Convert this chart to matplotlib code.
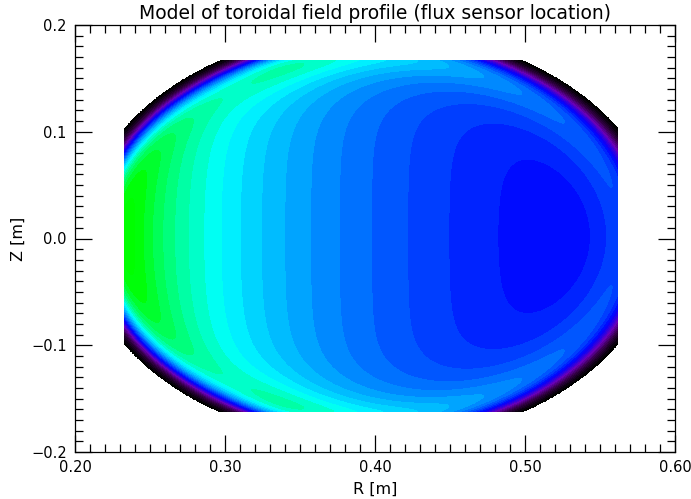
import numpy as np
import matplotlib.pyplot as plt
from matplotlib.colors import LinearSegmentedColormap
from matplotlib.ticker import MultipleLocator, FuncFormatter

# геометрія камери (м)
wall_r0, wall_z0, wall_a = 0.3975, 0.002, 0.193
r_lim = [0.233, 0.562]
z_lim = [-0.162, 0.167]

# параметри моделі поля
edge_len = 0.016
edge_pow = 2.0
bump_amp = 1.8
bump_len = 0.018
bump_r0, bump_dr, bump_in = 0.32, 0.03, 0.22

# рівні контурів
lev_start, lev_step, lev_stop = 0.075, 0.1435, 6.0

# кольорова таблиця (значення, колір)
cmap_vals = [0.0, 0.7, 1.3, 1.95, 3.4, 4.35]
cmap_cols = ['#000000', '#3a0050', '#6a00b8', '#0000ff', '#00ffff', '#00ff00']

R = np.linspace(r_lim[0], r_lim[1], 700)
Z = np.linspace(z_lim[0], z_lim[1], 700)
RR, ZZ = np.meshgrid(R, Z)
d = wall_a - np.hypot(RR - wall_r0, ZZ - wall_z0)
dc = np.clip(d, 0, None)
wall = 1 - np.exp(-(dc / edge_len) ** edge_pow)
g = bump_in + (1 - bump_in) * 0.5 * (1 + np.tanh((RR - bump_r0) / bump_dr))
B = wall * (1 + bump_amp * g * np.exp(-dc / bump_len)) / RR
B = np.ma.masked_where(d < 0, B)

vmax = cmap_vals[-1]
cmap = LinearSegmentedColormap.from_list('idl', [(v / vmax, c) for v, c in zip(cmap_vals, cmap_cols)])
cmap.set_over(cmap_cols[-1])
levels = np.arange(lev_start, lev_stop, lev_step)

fig = plt.figure(figsize=(6.91, 4.99), dpi=100)
ax = fig.add_axes([75 / 691, 1 - 452 / 499, 600 / 691, 427 / 499])
ax.contourf(RR, ZZ, B, levels=levels, cmap=cmap, vmin=0, vmax=vmax, extend='both')

ax.set_xlim(0.2, 0.6)
ax.set_ylim(-0.2, 0.2)
ax.xaxis.set_major_locator(MultipleLocator(0.1))
ax.xaxis.set_minor_locator(MultipleLocator(0.01))
ax.yaxis.set_major_locator(MultipleLocator(0.1))
ax.yaxis.set_minor_locator(MultipleLocator(0.01))
ax.xaxis.set_major_formatter(FuncFormatter(lambda v, p: f'{v:.2f}'.replace('-', '\u2212')))
ax.yaxis.set_major_formatter(FuncFormatter(lambda v, p: f'{v:.1f}'.replace('-', '\u2212')))
ax.tick_params(which='both', direction='in', top=True, right=True, width=0.9, labelsize=10.5, pad=6)
ax.tick_params(which='major', length=12)
ax.tick_params(which='minor', length=6)
for s in ax.spines.values():
    s.set_linewidth(0.9)

ax.set_title('Model of toroidal field profile (flux sensor location)', fontsize=13.5, pad=4)
ax.set_xlabel('R [m]', fontsize=11.5, labelpad=5)
ax.set_ylabel('Z [m]', fontsize=11.5, labelpad=4)

fig.savefig('out.png', dpi=100)
